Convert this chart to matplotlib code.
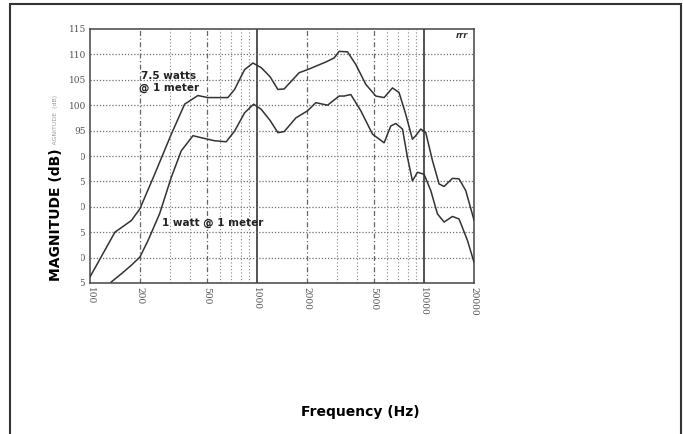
import numpy as np
import matplotlib
matplotlib.use('Agg')
import matplotlib.pyplot as plt
from matplotlib.patches import Rectangle

# 7.5 watts @ 1 meter
freq_hi = [100, 141, 177, 199, 244, 307, 369, 443, 509, 670, 735, 844, 947, 1061, 1200,
           1336, 1457, 1792, 2012, 2588, 2904, 3110, 3492, 3917, 4495, 5159, 5786, 6494,
           7112, 7800, 8554, 8954, 9594, 10280, 11274, 12352, 13234, 14856, 16270, 17844, 20000]
db_hi = [66.2, 75.0, 77.3, 79.6, 86.4, 94.3, 100.2, 101.9, 101.5, 101.5, 103.1, 107.0, 108.3,
         107.4, 105.6, 103.1, 103.2, 106.4, 107.0, 108.5, 109.3, 110.6, 110.5, 108.0, 104.1,
         101.8, 101.5, 103.4, 102.5, 98.2, 93.3, 94.0, 95.3, 94.6, 89.1, 84.5, 84.0, 85.6,
         85.5, 83.2, 77.4]

# 1 watt @ 1 meter
freq_lo = [134, 154, 177, 199, 223, 261, 307, 352, 414, 464, 558, 655, 735, 844, 956, 1061,
           1200, 1336, 1457, 1712, 2012, 2256, 2651, 3110, 3332, 3655, 4196, 4930, 5786, 6344,
           6797, 7457, 7989, 8554, 9169, 10043, 11014, 12079, 13234, 14856, 16270, 18264, 20000]
db_lo = [65.2, 66.8, 68.5, 70.1, 73.4, 78.6, 85.8, 91.0, 94.0, 93.6, 93.0, 92.8, 94.9, 98.5,
         100.2, 99.2, 97.0, 94.6, 94.8, 97.5, 98.9, 100.5, 100.0, 101.8, 101.8, 102.1, 98.9,
         94.3, 92.6, 95.9, 96.4, 95.3, 89.7, 85.1, 86.8, 86.4, 83.2, 78.6, 77.0, 78.1, 77.6,
         73.4, 69.1]

xticks = [100, 200, 500, 1000, 2000, 5000, 10000, 20000]
yticks = list(range(65, 120, 5))

W, H = 683, 434
fig = plt.figure(figsize=(W / 100, H / 100), dpi=100)
fig.patch.set_facecolor('white')

# outer page frame
fig.patches.append(Rectangle((10 / W, -0.05), 671 / W, 1.05 - 4 / H, transform=fig.transFigure,
                             fill=False, edgecolor='#333333', lw=1.5, zorder=0))

ax = fig.add_axes([90 / W, 1 - 283 / H, 384 / W, 254 / H])
ax.set_xscale('log')
ax.set_xlim(100, 20000)
ax.set_ylim(65, 115)

# scanned grid
for dec in [100, 1000, 10000]:
    for m in range(2, 10):
        f = dec * m
        if f >= 20000:
            continue
        if m in (2, 5):
            ax.axvline(f, color='#666666', lw=0.9, ls=(0, (4, 2, 1, 2)), zorder=1)
        else:
            ax.axvline(f, color='#888888', lw=0.8, ls=(0, (1, 2)), zorder=1)
for f in [1000, 10000]:
    ax.axvline(f, color='#444444', lw=1.3, zorder=1)
for y in range(70, 115, 5):
    ax.axhline(y, color='#707070', lw=0.9, ls=(0, (1, 1.5)), zorder=1)

ax.plot(freq_hi, db_hi, color='#333333', lw=1.1, zorder=3)
ax.plot(freq_lo, db_lo, color='#333333', lw=1.1, zorder=3)

fig.text(169 / W, 1 - 82 / H, '7.5 watts\n@ 1 meter', ha='center', va='center',
         fontsize=7.5, fontweight='bold', color='#222222', linespacing=1.1, zorder=4)
fig.text(213 / W, 1 - 223 / H, '1 watt @ 1 meter', ha='center', va='center',
         fontsize=7.5, fontweight='bold', color='#222222', zorder=4)
fig.text(462 / W, 1 - 36 / H, 'rrr', ha='center', va='center', fontsize=6,
         fontweight='bold', style='italic', color='#333333')

ax.set_xticks(xticks)
ax.set_xticklabels([str(t) for t in xticks], rotation=270, family='DejaVu Serif',
                   fontsize=6.5, color='#555555')
ax.xaxis.set_minor_locator(matplotlib.ticker.NullLocator())
ax.set_yticks(yticks)
ax.set_yticklabels([str(t) for t in yticks], family='DejaVu Serif', fontsize=6.5, color='#555555')
ax.tick_params(length=0, pad=3)
for s in ax.spines.values():
    s.set_color('#444444')
    s.set_linewidth(1.1)

# original scanned axis title
fig.text(55 / W, 1 - 122 / H, 'MAGNITUDE  (dB)', rotation=90, ha='center', va='center',
         fontsize=4.5, color='#999999')

# white label box over the scan, then the bold axis title
fig.patches.append(Rectangle((44 / W, 1 - 290 / H), 37 / W, 145 / H, transform=fig.transFigure,
                             facecolor='white', edgecolor='none', zorder=5))
fig.text(56 / W, 1 - 215 / H, 'MAGNITUDE (dB)', rotation=90, ha='center', va='center',
         fontsize=10, fontweight='bold', color='black', zorder=6)
fig.text(360 / W, 1 - 412 / H, 'Frequency (Hz)', ha='center', va='center',
         fontsize=10, fontweight='bold', color='black', zorder=6)

fig.savefig('out.png', dpi=100)
